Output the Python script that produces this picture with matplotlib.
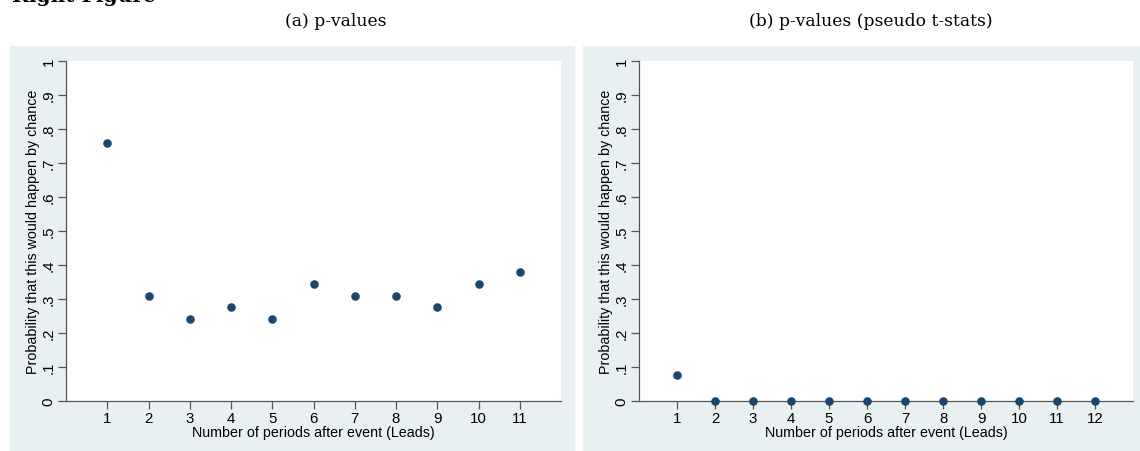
import matplotlib
matplotlib.use("Agg")
import matplotlib.pyplot as plt
from matplotlib.patches import Rectangle
from matplotlib.ticker import FuncFormatter

# p-values by lead
leads_a = [1, 2, 3, 4, 5, 6, 7, 8, 9, 10, 11]
pvals_a = [0.759, 0.310, 0.241, 0.276, 0.241, 0.345, 0.310, 0.310, 0.276, 0.345, 0.379]

# p-values using pseudo t-stats
leads_b = [1, 2, 3, 4, 5, 6, 7, 8, 9, 10, 11, 12]
pvals_b = [0.077, 0, 0, 0, 0, 0, 0, 0, 0, 0, 0, 0]

yticks = [0, 0.1, 0.2, 0.3, 0.4, 0.5, 0.6, 0.7, 0.8, 0.9, 1]

W, H = 1140, 452
NAVY = "#1a476f"
BG = "#e9f0f2"
GRID = "#e3ecee"
AXIS = "#555555"


def px(x0, y0, x1, y1):
    # pixel box (top-left origin) -> figure fraction rect
    return [x0 / W, 1 - y1 / H, (x1 - x0) / W, (y1 - y0) / H]


def fmt_y(v, pos):
    if abs(v) < 1e-9:
        return "0"
    if abs(v - 1) < 1e-9:
        return "1"
    return ("%.1f" % v)[1:]


def draw_panel(rect, x, y, xmax):
    ax = fig.add_axes(rect, zorder=2)
    ax.set_facecolor("white")
    ax.scatter(x, y, s=38, color=NAVY, zorder=5, clip_on=False, linewidths=0)
    ax.set_xlim(0, xmax)
    ax.set_ylim(0, 1)
    ax.set_xticks(x)
    ax.set_yticks(yticks)
    ax.yaxis.set_major_formatter(FuncFormatter(fmt_y))
    ax.set_yticks([0.1 * i for i in range(1, 10)], minor=True)
    ax.grid(True, which="minor", axis="y", color=GRID, lw=0.9)
    ax.grid(False, which="major")
    for s in ["top", "right"]:
        ax.spines[s].set_visible(False)
    for s in ["left", "bottom"]:
        ax.spines[s].set_color(AXIS)
        ax.spines[s].set_linewidth(0.9)
    ax.tick_params(axis="y", which="minor", length=0)
    ax.tick_params(axis="both", which="major", length=6, width=0.9,
                   color=AXIS, labelsize=10.8, pad=1.5)
    for lab in ax.get_yticklabels():
        lab.set_rotation(90)
        lab.set_va("center")
    ax.set_xlabel("Number of periods after event (Leads)", fontsize=10.3, labelpad=0)
    ax.set_ylabel("Probability that this would happen by chance", fontsize=10.3, labelpad=1)
    return ax


plt.rcParams["font.family"] = ["Liberation Sans", "DejaVu Sans"]

fig = plt.figure(figsize=(W / 100, H / 100), dpi=100)

# light graph-region backgrounds behind each panel
fig.patches.append(Rectangle((10 / W, 0), 564 / W, (H - 47) / H,
                             transform=fig.transFigure, color=BG, zorder=-1))
fig.patches.append(Rectangle((583 / W, 0), 557 / W, (H - 47) / H,
                             transform=fig.transFigure, color=BG, zorder=-1))

draw_panel(px(66, 62, 561, 402), leads_a, pvals_a, 12)
draw_panel(px(639, 62, 1133, 402), leads_b, pvals_b, 13)

fig.text(12 / W, 1 - 2.5 / H, "Right Figure", family="DejaVu Serif",
         weight="bold", fontsize=14.5, va="baseline", ha="left")
fig.text(336 / W, 1 - 22 / H, "(a) p-values", family="DejaVu Serif",
         fontsize=12.3, ha="center", va="center")
fig.text(871 / W, 1 - 22 / H, "(b) p-values (pseudo t-stats)", family="DejaVu Serif",
         fontsize=12.3, ha="center", va="center")

fig.savefig("out.png", dpi=100)
